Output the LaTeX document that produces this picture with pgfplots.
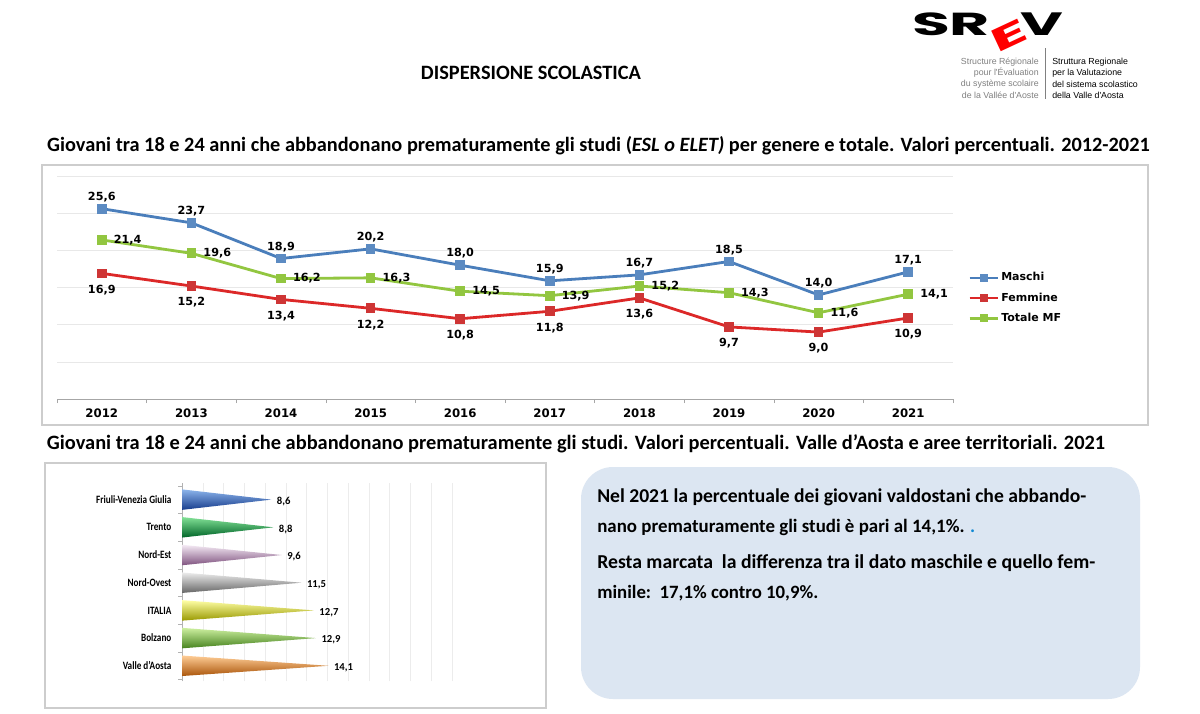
\documentclass[border=0pt]{standalone}
\usepackage{pgfplots}
\pgfplotsset{compat=1.18}
\usepackage{fontspec}
\setmainfont{Carlito}
\newfontfamily\dejavu{DejaVu Sans}
\newfontfamily\libsans{Liberation Sans}
\newfontfamily\poppins{Poppins}
\definecolor{mblue}{RGB}{74,126,187}
\definecolor{fred}{RGB}{220,40,40}
\definecolor{tgreen}{RGB}{146,198,64}
\definecolor{boxblue}{RGB}{220,230,242}
\definecolor{frame}{RGB}{205,205,205}
\definecolor{cbT}{RGB}{140,180,235}\definecolor{cbM}{RGB}{60,112,200}\definecolor{cbB}{RGB}{22,60,140}
\definecolor{ctT}{RGB}{130,225,150}\definecolor{ctM}{RGB}{0,176,80}\definecolor{ctB}{RGB}{0,100,40}
\definecolor{clT}{RGB}{205,240,160}\definecolor{clM}{RGB}{135,208,65}\definecolor{clB}{RGB}{70,130,30}
\definecolor{coT}{RGB}{255,205,150}\definecolor{coM}{RGB}{250,145,40}\definecolor{coB}{RGB}{170,85,10}
\newcommand\fs[1]{\fontsize{#1}{#1}\selectfont}
\newcommand\fitw[2]{\resizebox{#1}{!}{#2}}
\newcommand\sx[1]{\scalebox{0.82}[1]{#1}}

\begin{document}
\begin{tikzpicture}
\begin{scope}[x=0.75pt,y=-0.75pt]
\useasboundingbox[fill=white] (0,0) rectangle (1200,714);

% ---------- logo ----------
\node[inner sep=0] at (951,24) {\poppins\bfseries\resizebox{58.5pt}{17pt}{SR}};
\node[inner sep=0] at (1042,24) {\poppins\bfseries\resizebox{32pt}{17pt}{V}};
\node[inner sep=0, rotate=25, text=red] at (1009,36) {\poppins\bfseries\resizebox{27pt}{17pt}{E}};
\draw[gray, line width=0.75pt] (1045,48) -- (1045,99);
\node[anchor=east, inner sep=0, text=gray] at (1039,62) {\libsans\fs{6.6}Structure Régionale};
\node[anchor=east, inner sep=0, text=gray] at (1039,73) {\libsans\fs{6.6}pour l'Évaluation};
\node[anchor=east, inner sep=0, text=gray] at (1039,84) {\libsans\fs{6.6}du système scolaire};
\node[anchor=east, inner sep=0, text=gray] at (1039,95) {\libsans\fs{6.6}de la Vallée d'Aoste};
\node[anchor=west, inner sep=0] at (1052,62) {\libsans\fs{6.6}Struttura Regionale};
\node[anchor=west, inner sep=0] at (1052,73) {\libsans\fs{6.6}per la Valutazione};
\node[anchor=west, inner sep=0] at (1052,84) {\libsans\fs{6.6}del sistema scolastico};
\node[anchor=west, inner sep=0] at (1052,95) {\libsans\fs{6.6}della Valle d'Aosta};

% ---------- titles ----------
\node[inner sep=0] at (531,73) {\fitw{165pt}{\bfseries DISPERSIONE SCOLASTICA}};
\node[inner sep=0] at (598.5,146) {\fitw{827pt}{\bfseries Giovani tra 18 e 24 anni che abbandonano prematuramente gli studi (\textit{ESL o ELET)} per genere e totale. Valori percentuali. 2012-2021}};
\node[inner sep=0] at (576,444) {\fitw{793.5pt}{\bfseries Giovani tra 18 e 24 anni che abbandonano prematuramente gli studi. Valori percentuali. Valle d'Aosta e aree territoriali. 2021}};

% ---------- frames ----------
\draw[frame, line width=0.9pt] (42,165) rectangle (1148,425);
\draw[frame, line width=0.9pt] (45,463) rectangle (546,708);
\fill[boxblue, rounded corners=24pt] (581,467) rectangle (1140,699);

% ---------- text box ----------
\node[anchor=west, inner sep=0] at (597,497) {\fitw{366.75pt}{\bfseries Nel 2021 la percentuale dei giovani valdostani che abbando-}};
\node[anchor=west, inner sep=0] at (597,527) {\fitw{283.5pt}{\bfseries nano prematuramente gli studi è pari al 14,1\%. \textcolor{cyan!70!blue}{.}}};
\node[anchor=west, inner sep=0] at (597,563) {\fitw{373.5pt}{\bfseries Resta marcata\ \ la differenza tra il dato maschile e quello fem-}};
\node[anchor=west, inner sep=0] at (597,593) {\fitw{165.75pt}{\bfseries minile:\ \ 17,1\% contro 10,9\%.}};
\end{scope}

% ---------- line chart ----------
\begin{axis}[
  at={(42.75pt,-299.25pt)}, anchor=south west, scale only axis,
  width=672pt, height=167.25pt,
  xmin=-0.5, xmax=9.5, ymin=0, ymax=30,
  axis x line=bottom, axis y line=left, axis line style={-},
  y axis line style={draw=none},
  x axis line style={draw=gray!70},
  xtick={0,...,9},
  xticklabels={2012,2013,2014,2015,2016,2017,2018,2019,2020,2021},
  minor xtick={-0.5,0.5,...,9.5},
  major x tick style={draw=none},
  minor x tick style={draw=gray!70},
  minor tick length=3pt,
  tick align=outside,
  ytick={5,10,...,30}, yticklabels={}, major y tick style={draw=none},
  ymajorgrids, grid style={gray!18},
  x tick label style={font=\dejavu\bfseries\fs{8.8}, inner sep=0, yshift=-3pt},
  every axis plot/.append style={line width=2.1pt, mark=square*, mark size=2.6pt},
  nodes near coords,
  nodes near coords style={font=\dejavu\bfseries\fs{8.4}, inner sep=0, text=black},
  /pgf/number format/.cd, fixed, fixed zerofill, precision=1, use comma, assume math mode=true,
  /pgfplots/.cd,
  legend style={at={(1.017,0.58)}, anchor=north west, draw=none, fill=none,
    font=\dejavu\bfseries\fs{8.25}, row sep=3.5pt, inner sep=0},
  legend cell align=left,
  legend image code/.code={\draw[mark repeat=2, mark phase=2, line width=1.6pt, mark size=2.2pt] plot coordinates {(0pt,0pt) (10.5pt,0pt) (21pt,0pt)};},
]
\addplot[color=mblue, mark options={fill=mblue!90!white, draw=mblue!90!white},
  nodes near coords style={anchor=south, yshift=4pt}]
  coordinates {(0,25.6) (1,23.7) (2,18.9) (3,20.2) (4,18.0) (5,15.9) (6,16.7) (7,18.5) (8,14.0) (9,17.1)};
\addlegendentry{Maschi}
\addplot[color=fred, mark options={fill=fred!85!gray, draw=fred!85!gray},
  nodes near coords style={anchor=north, yshift=-7.5pt}]
  coordinates {(0,16.9) (1,15.2) (2,13.4) (3,12.2) (4,10.8) (5,11.8) (6,13.6) (7,9.7) (8,9.0) (9,10.9)};
\addlegendentry{Femmine}
\addplot[color=tgreen, mark options={fill=tgreen, draw=tgreen},
  nodes near coords style={anchor=west, xshift=8pt}]
  coordinates {(0,21.4) (1,19.6) (2,16.2) (3,16.3) (4,14.5) (5,13.9) (6,15.2) (7,14.3) (8,11.6) (9,14.1)};
\addlegendentry{Totale MF}
\end{axis}

% ---------- cone chart ----------
\begin{axis}[
  at={(136.5pt,-510.75pt)}, anchor=south west, scale only axis,
  width=202.5pt, height=148.5pt,
  xmin=0, xmax=26, ymin=-0.55, ymax=6.6,
  axis x line=bottom, axis y line=left, axis line style={-},
  x axis line style={draw=none},
  y axis line style={draw=gray!60},
  xtick={0,2,...,26}, xticklabels={}, major x tick style={draw=none},
  xmajorgrids, grid style={gray!15},
  ytick={0,...,6},
  yticklabels={\sx{Valle d'Aosta}, \sx{Bolzano}, \sx{ITALIA}, \sx{Nord-Ovest}, \sx{Nord-Est}, \sx{Trento}, \sx{Friuli-Venezia Giulia}},
  minor ytick={-0.5,0.5,...,6.5},
  major y tick style={draw=none},
  minor y tick style={draw=gray!60},
  minor tick length=3pt, tick align=outside,
  y tick label style={font=\bfseries\fs{8.4}, inner sep=0, xshift=-3.5pt},
]
\addplot[draw=none, top color=coT, middle color=coM, bottom color=coB] coordinates {(0,0.37) (14.1,0) (0,-0.37)} -- cycle;
\addplot[draw=none, top color=clT, middle color=clM, bottom color=clB] coordinates {(0,1.37) (12.9,1) (0,0.63)} -- cycle;
\addplot[draw=none, top color=yellow!35!white, middle color=yellow, bottom color=yellow!60!black] coordinates {(0,2.37) (12.7,2) (0,1.63)} -- cycle;
\addplot[draw=none, top color=gray!15!white, middle color=gray!55, bottom color=gray!80!black] coordinates {(0,3.37) (11.5,3) (0,2.63)} -- cycle;
\addplot[draw=none, top color=violet!8!white, middle color=violet!22!white, bottom color=violet!35!gray] coordinates {(0,4.37) (9.6,4) (0,3.63)} -- cycle;
\addplot[draw=none, top color=ctT, middle color=ctM, bottom color=ctB] coordinates {(0,5.37) (8.8,5) (0,4.63)} -- cycle;
\addplot[draw=none, top color=cbT, middle color=cbM, bottom color=cbB] coordinates {(0,6.37) (8.6,6) (0,5.63)} -- cycle;
\addplot[draw=none, mark=none, point meta=x, nodes near coords,
  nodes near coords style={anchor=west, xshift=4pt, yshift=-1.5pt, inner sep=0, font=\bfseries\fs{8}},
  /pgf/number format/.cd, fixed, fixed zerofill, precision=1, use comma, assume math mode=true]
  coordinates {(14.1,0) (12.9,1) (12.7,2) (11.5,3) (9.6,4) (8.8,5) (8.6,6)};
\end{axis}
\end{tikzpicture}
\end{document}
